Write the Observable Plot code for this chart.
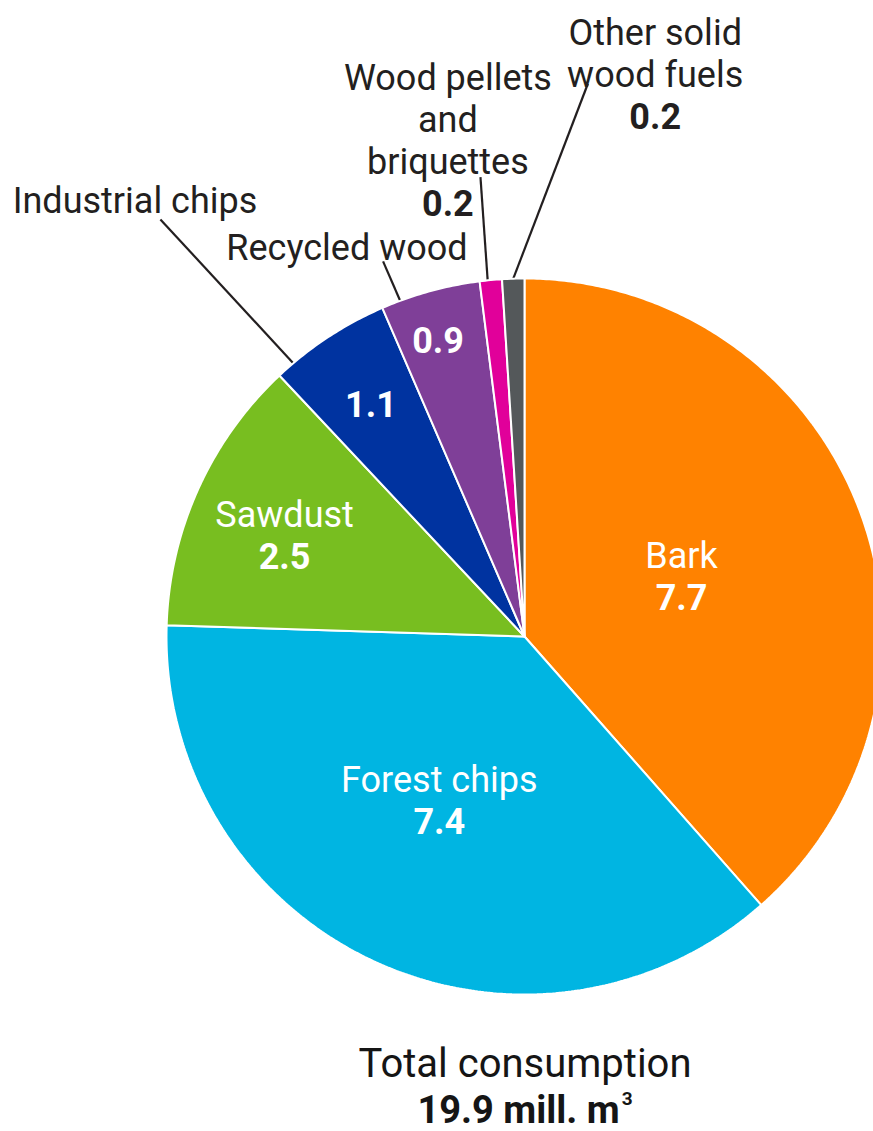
<!DOCTYPE html>
<html>
<head>
<meta charset="utf-8">
<script src="https://cdn.jsdelivr.net/npm/d3@7"></script>
<script src="https://cdn.jsdelivr.net/npm/@observablehq/plot@0.6"></script>
<style>
  html, body { margin: 0; padding: 0; background: #fff; overflow: hidden; }
  #wrap { position: relative; width: 873px; height: 1131px; overflow: hidden; }
  #chart svg { display: block; }
  #caption { position: absolute; left: 0; top: 1040px; width: 1050px; text-align: center;
    font-family: Roboto, sans-serif; color: #151515; }
  #caption .l1 { font-size: 40px; line-height: 48px; height: 49px; }
  #caption .l2 { font-size: 38px; line-height: 42px; font-weight: bold; }
  #caption .sup { font-size: 0.5em; position: relative; top: -0.95em; margin-left: 2px; }
</style>
</head>
<body>
<div id="wrap">
  <div id="chart"></div>
  <div id="caption"></div>
</div>
<script>
// ---------- data ----------
const categories = ["Bark", "Forest chips", "Sawdust", "Industrial chips", "Recycled wood",
  "Wood pellets and briquettes", "Other solid wood fuels"];
const displayNames = ["Bark", "Forest chips", "Sawdust", "Industrial chips", "Recycled wood",
  "Wood pellets\nand\nbriquettes", "Other solid\nwood fuels"];
const values = [7.7, 7.4, 2.5, 1.1, 0.9, 0.2, 0.2];
const valueLabels = ["7.7", "7.4", "2.5", "1.1", "0.9", "0.2", "0.2"];
const colors = ["#ff8200", "#00b5e2", "#78be20", "#0033a0", "#7f3f98", "#e1009a", "#54585a"];
const captionTitle = "Total consumption";
const totalValue = "19.9";
const totalUnit = "mill. m";

// ---------- layout (pie radius = 1, centre = 0,0) ----------
const cx = 524, cy = 636, R = 358;           // pie placement in pixels
const insideLabels = {                        // r: distance from centre; turn: degrees off the slice middle
  "Bark": {r: 0.47, turn: -0.3, name: true},
  "Forest chips": {r: 0.517, turn: 2.2, name: true},
  "Sawdust": {r: 0.727, turn: -1.5, name: true},
  "Industrial chips": {r: 0.775, turn: -0.3, name: false},
  "Recycled wood": {r: 0.86, turn: -1, name: false}
};
const callouts = {                            // along: where the leader leaves the slice (0..1 of its span)
  "Industrial chips": {along: 0.15, end: [-1.017, 1.165], at: [-1.088, 1.184], value: false},
  "Recycled wood": {along: 0.19, end: [-0.395, 1.048], at: [-0.496, 1.053], value: false},
  "Wood pellets and briquettes": {along: 0.36, end: [-0.123, 1.283], at: [-0.214, 1.293], value: true},
  "Other solid wood fuels": {along: 0.5, end: [0.177, 1.544], at: [0.365, 1.536], value: true}
};

// ---------- derived geometry ----------
const rows = categories.map((c, i) => ({name: c, display: displayNames[i], value: values[i], label: valueLabels[i]}));
const arcs = d3.pie().sort(null).value(d => d.value)(rows);

const slicePts = [];
arcs.forEach(a => {
  const name = a.data.name;
  const n = Math.max(2, Math.ceil((a.endAngle - a.startAngle) / (Math.PI / 360)));
  slicePts.push({name, x: 0, y: 0});
  for (let k = 0; k <= n; k++) {
    const t = a.startAngle + (a.endAngle - a.startAngle) * k / n;
    slicePts.push({name, x: Math.sin(t), y: Math.cos(t)});
  }
  slicePts.push({name, x: 0, y: 0});
});

const inside = arcs.filter(a => insideLabels[a.data.name]).map(a => {
  const L = insideLabels[a.data.name];
  const m = (a.startAngle + a.endAngle) / 2 + L.turn * Math.PI / 180;
  return {...a.data, x: L.r * Math.sin(m), y: L.r * Math.cos(m), showName: L.name};
});

const leaders = arcs.filter(a => callouts[a.data.name]).map(a => {
  const c = callouts[a.data.name];
  const t = a.startAngle + (a.endAngle - a.startAngle) * c.along;
  return {...a.data, x1: Math.sin(t), y1: Math.cos(t), x2: c.end[0], y2: c.end[1],
    tx: c.at[0], ty: c.at[1], showValue: c.value};
});

const dark = "#231f20";
const font = "Roboto";
const fs = 36;

const chart = Plot.plot({
  width: 873,
  height: 1036,
  margin: 0,
  x: {domain: [-1, 1], range: [cx - R, cx + R], axis: null},
  y: {domain: [-1, 1], range: [cy + R, cy - R], axis: null},
  color: {domain: categories, range: colors},
  style: {fontFamily: font, background: "white"},
  marks: [
    Plot.link(leaders, {x1: "x1", y1: "y1", x2: "x2", y2: "y2", stroke: dark, strokeWidth: 2.2}),
    Plot.line(slicePts, {x: "x", y: "y", z: "name", fill: "name", stroke: "white", strokeWidth: 2,
      strokeLinejoin: "miter"}),
    // inside labels: names
    Plot.text(inside.filter(d => d.showName), {x: "x", y: "y", text: "display", fill: "white",
      fontSize: fs, fontFamily: font, lineAnchor: "bottom", dy: -8.5}),
    // inside labels: values with name
    Plot.text(inside.filter(d => d.showName), {x: "x", y: "y", text: "label", fill: "white",
      fontSize: fs, fontFamily: font, fontWeight: "bold", lineAnchor: "bottom", dy: 33.5}),
    // inside labels: values only
    Plot.text(inside.filter(d => !d.showName), {x: "x", y: "y", text: "label", fill: "white",
      fontSize: fs, fontFamily: font, fontWeight: "bold", lineAnchor: "middle"}),
    // callout names
    Plot.text(leaders, {x: "tx", y: "ty", text: "display", fill: dark, fontSize: fs,
      fontFamily: font, lineAnchor: "bottom", lineHeight: 42 / fs}),
    // callout values
    Plot.text(leaders.filter(d => d.showValue), {x: "tx", y: "ty", text: "label", fill: dark,
      fontSize: fs, fontFamily: font, fontWeight: "bold", lineAnchor: "bottom", dy: 42})
  ]
});
document.getElementById("chart").append(chart);

const cap = document.getElementById("caption");
const l1 = document.createElement("div");
l1.className = "l1";
l1.textContent = captionTitle;
const l2 = document.createElement("div");
l2.className = "l2";
l2.textContent = totalValue + " " + totalUnit;
const sup = document.createElement("span");
sup.className = "sup";
sup.textContent = "3";
l2.append(sup);
cap.append(l1, l2);
</script>
</body>
</html>
